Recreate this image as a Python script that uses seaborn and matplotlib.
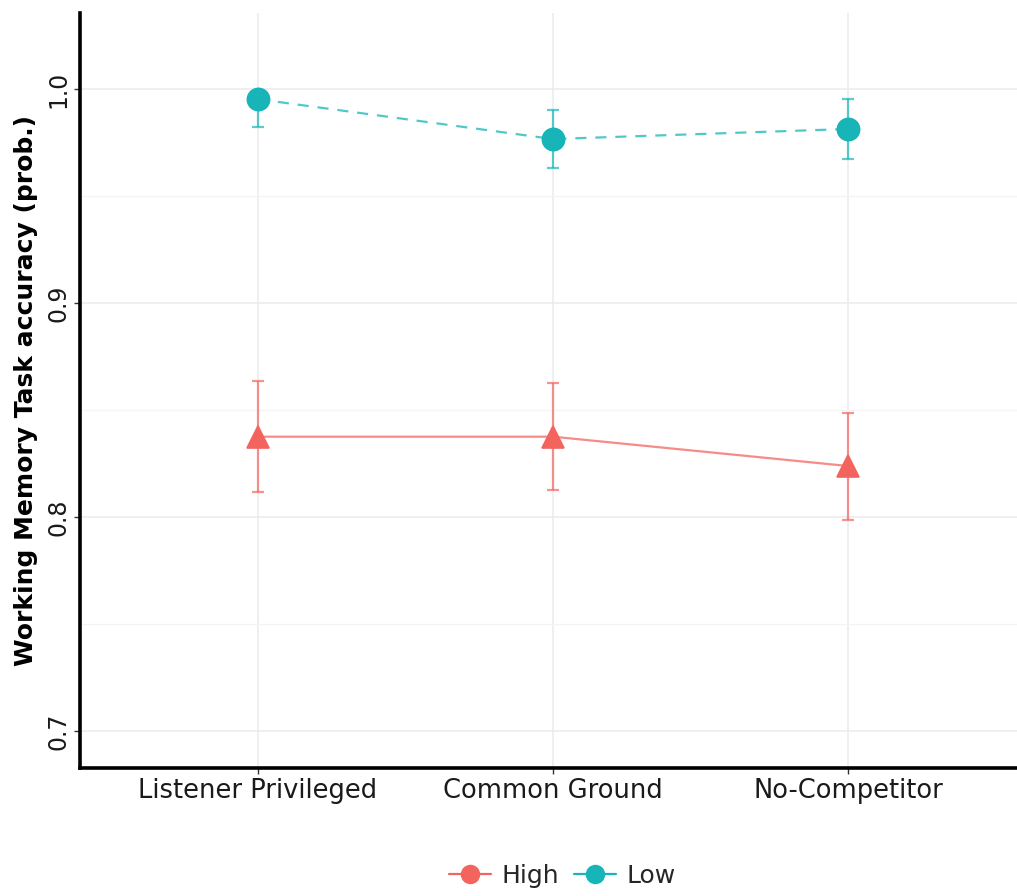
import matplotlib
matplotlib.use("Agg")
import matplotlib.pyplot as plt
from matplotlib.colors import to_rgba
from matplotlib.lines import Line2D
from matplotlib.ticker import MultipleLocator
import seaborn as sns
import pandas as pd

# values
conditions = ["Listener Privileged", "Common Ground", "No-Competitor"]
groups = ["High", "Low"]
high_mean = [0.8375, 0.8375, 0.8238]
high_lo = [0.8117, 0.8125, 0.7987]
high_hi = [0.8634, 0.8626, 0.8486]
low_mean = [0.9952, 0.9766, 0.9813]
low_lo = [0.9824, 0.9632, 0.9673]
low_hi = [0.9990, 0.9902, 0.9955]

colors = {"High": "#F4645F", "Low": "#17B5B8"}

df = pd.DataFrame(
    {
        "condition": conditions * 2,
        "group": ["High"] * 3 + ["Low"] * 3,
        "acc": high_mean + low_mean,
        "lo": high_lo + low_lo,
        "hi": high_hi + low_hi,
    }
)

sns.set_style("white")
plt.rcParams["font.family"] = ["DejaVu Sans"]

fig = plt.figure(figsize=(10.17, 8.96), dpi=100)
ax = fig.add_axes([0.0787, 0.1429, 0.9213, 0.8426])

sns.pointplot(
    data=df,
    x="condition",
    y="acc",
    hue="group",
    hue_order=groups,
    order=conditions,
    palette=colors,
    markers=["^", "o"],
    linestyles=["-", "--"],
    errorbar=None,
    markersize=16,
    linewidth=1.6,
    ax=ax,
    legend=False,
)

# lighter connecting lines, solid markers
for ln in ax.lines:
    rgb = to_rgba(ln.get_color())
    ln.set_color((rgb[0], rgb[1], rgb[2], 0.75))
    ln.set_markerfacecolor((rgb[0], rgb[1], rgb[2], 1))
    ln.set_markeredgecolor((rgb[0], rgb[1], rgb[2], 1))
    ln.set_zorder(3)
    if ln.get_linestyle() == "--":
        ln.set_dashes((5, 4))

# error bars beneath the markers
for name, d in df.groupby("group"):
    ebar = ax.errorbar(
        x=range(len(d)),
        y=d["acc"],
        yerr=[d["acc"] - d["lo"], d["hi"] - d["acc"]],
        fmt="none",
        ecolor=to_rgba(colors[name], 0.7),
        elinewidth=1.6,
        capsize=4.5,
        capthick=1.6,
        zorder=2,
    )
    for cap in ebar[1]:
        cap.set_color(to_rgba(colors[name], 0.7))
        cap.set_markeredgecolor(to_rgba(colors[name], 0.7))

ax.set_xlim(-0.6034, 2.573)
ax.set_ylim(0.6827, 1.0355)
ax.yaxis.set_major_locator(MultipleLocator(0.1))
ax.yaxis.set_minor_locator(MultipleLocator(0.05))

ax.grid(True, which="major", color="#EBEBEB", linewidth=1.1)
ax.grid(True, which="minor", axis="y", color="#F4F4F4", linewidth=0.9)
ax.set_axisbelow(True)

sns.despine(ax=ax, top=True, right=True)
for side in ["left", "bottom"]:
    ax.spines[side].set_color("black")
    ax.spines[side].set_linewidth(2.6)

ax.tick_params(axis="both", which="major", length=4, width=1, color="#333333",
               direction="out", bottom=True, left=True)
ax.tick_params(axis="x", labelsize=18.5, labelcolor="#1a1a1a", pad=3)
ax.tick_params(axis="y", labelsize=17, labelcolor="#1a1a1a", pad=3)
ax.tick_params(axis="y", which="minor", length=0)
ax.set_yticks([0.7, 0.8, 0.9, 1.0])
ax.set_yticklabels(["0.7", "0.8", "0.9", "1.0"], rotation=90, va="center")

ax.set_xlabel("")
ax.set_ylabel("Working Memory Task accuracy (prob.)", fontsize=18,
              fontweight="bold", color="black", labelpad=6)

handles = [
    Line2D([0], [0], color=colors[g], marker="o", markersize=13, linewidth=1.6)
    for g in groups
]
fig.legend(
    handles,
    groups,
    loc="center",
    bbox_to_anchor=(562 / 1017, 1 - 876 / 896),
    ncol=2,
    frameon=False,
    fontsize=18,
    handlelength=1.7,
    handletextpad=0.4,
    columnspacing=0.6,
)

fig.savefig("out.png", dpi=100)
